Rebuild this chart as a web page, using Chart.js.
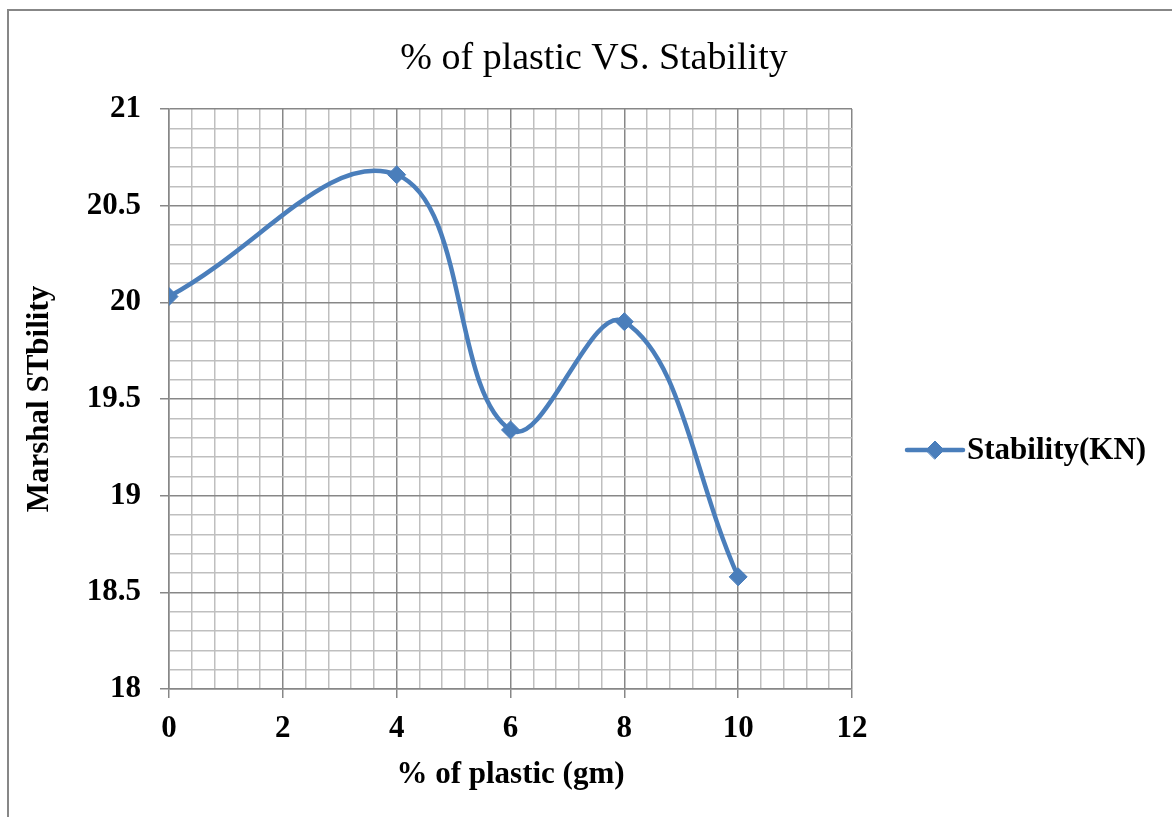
<!DOCTYPE html>
<html>
<head>
<meta charset="utf-8">
<script src="https://cdn.jsdelivr.net/npm/chart.js@4/dist/chart.umd.min.js"></script>
<style>
  html, body { margin: 0; padding: 0; background: #ffffff; }
  #wrap { position: relative; width: 1172px; height: 817px; overflow: hidden; }
  #frame { position: absolute; left: 7px; top: 9px; width: 1300px; height: 1000px;
           border-top: 2px solid #878787; border-left: 2px solid #878787; }
  #c { position: absolute; left: 0; top: 0; }
</style>
</head>
<body>
<div id="wrap">
  <div id="frame"></div>
  <canvas id="c" width="1172" height="817"></canvas>
</div>
<script>
// ---- data ----
const plasticPercent = [0, 4, 6, 8, 10];
const stabilityKN = [20.03, 20.66, 19.34, 19.90, 18.58];
const seriesName = 'Stability(KN)';
const chartTitle = '% of plastic VS. Stability';
const xAxisTitle = '% of plastic (gm)';
const yAxisTitle = 'Marshal STbility';
const xMajorTicks = [0, 2, 4, 6, 8, 10, 12];
const yMajorTicks = [18, 18.5, 19, 19.5, 20, 20.5, 21];

const FONT = "'Liberation Serif', 'Times New Roman', serif";
const LINE_COLOR = '#4a7ebb';
const MAJOR = '#878787';
const MINOR = '#bfbfbf';

const isMajor = (list, v) => list.some(m => Math.abs(m - v) < 1e-6);

const legendPlugin = {
  id: 'sideLegend',
  afterDraw(chart) {
    const ctx = chart.ctx;
    const ds = chart.data.datasets[0];
    const area = chart.chartArea;
    const x0 = area.right + 55;
    const y = 450;
    ctx.save();
    ctx.strokeStyle = ds.borderColor;
    ctx.lineWidth = ds.borderWidth;
    ctx.lineCap = 'round';
    ctx.beginPath();
    ctx.moveTo(x0, y);
    ctx.lineTo(x0 + 56, y);
    ctx.stroke();
    ctx.fillStyle = ds.pointBackgroundColor;
    ctx.strokeStyle = ds.pointBorderColor;
    ctx.lineWidth = 1;
    Chart.helpers.drawPoint(ctx, { pointStyle: 'rectRot', radius: ds.pointRadius, rotation: 0, borderWidth: 1 }, x0 + 28, y);
    ctx.fillStyle = '#000';
    ctx.font = 'bold 31px ' + FONT;
    ctx.textBaseline = 'middle';
    ctx.textAlign = 'left';
    ctx.fillText(ds.label, x0 + 60, y + 1);
    ctx.restore();
  }
};

new Chart(document.getElementById('c'), {
  type: 'scatter',
  data: {
    datasets: [{
      label: seriesName,
      data: plasticPercent.map((x, i) => ({ x: x, y: stabilityKN[i] })),
      showLine: true,
      tension: 0.4,
      borderColor: LINE_COLOR,
      borderWidth: 4.5,
      pointStyle: 'rectRot',
      pointRadius: 9,
      pointHoverRadius: 9,
      pointBackgroundColor: LINE_COLOR,
      pointBorderColor: LINE_COLOR,
      pointBorderWidth: 1
    }]
  },
  options: {
    responsive: false,
    animation: false,
    devicePixelRatio: 1,
    layout: { padding: { left: 16, right: 0, top: 0, bottom: 0 } },
    plugins: {
      legend: { display: false },
      tooltip: { enabled: false },
      title: {
        display: true,
        text: chartTitle,
        color: '#000',
        font: { family: FONT, size: 38, weight: 'normal' },
        padding: { top: 36, bottom: 27.4 }
      }
    },
    scales: {
      x: {
        type: 'linear',
        min: 0, max: 12,
        afterFit(s) { s.height = 128; },
        ticks: {
          stepSize: 0.4,
          autoSkip: false,
          maxRotation: 0,
          maxTicksLimit: 100,
          padding: 12,
          color: '#000',
          font: { family: FONT, size: 31, weight: 'bold' },
          callback: (v) => isMajor(xMajorTicks, v) ? String(Math.round(v)) : ''
        },
        grid: {
          color: (c) => isMajor(xMajorTicks, c.tick.value) ? MAJOR : MINOR,
          lineWidth: 1.5,
          tickLength: 9,
          tickColor: (c) => isMajor(xMajorTicks, c.tick.value) ? MAJOR : 'rgba(0,0,0,0)',
          tickWidth: 1.5
        },
        border: { color: MAJOR, width: 1.5 },
        title: {
          display: true,
          text: xAxisTitle,
          color: '#000',
          font: { family: FONT, size: 31, weight: 'bold' },
          padding: { top: 0, bottom: 23 }
        }
      },
      y: {
        type: 'linear',
        min: 18, max: 21,
        afterFit(s) { s.width = 153; },
        ticks: {
          stepSize: 0.1,
          autoSkip: false,
          maxTicksLimit: 100,
          padding: 19,
          color: '#000',
          font: { family: FONT, size: 31, weight: 'bold' },
          callback: (v) => isMajor(yMajorTicks, v) ? String(Math.round(v * 10) / 10) : ''
        },
        grid: {
          color: (c) => isMajor(yMajorTicks, c.tick.value) ? MAJOR : MINOR,
          lineWidth: 1.5,
          tickLength: 9,
          tickColor: (c) => isMajor(yMajorTicks, c.tick.value) ? MAJOR : 'rgba(0,0,0,0)',
          tickWidth: 1.5
        },
        border: { color: MAJOR, width: 1.5 },
        title: {
          display: true,
          text: yAxisTitle,
          color: '#000',
          font: { family: FONT, size: 31, weight: 'bold' },
          padding: { top: 5, bottom: 0 }
        }
      },
      spacer: {
        type: 'linear',
        position: 'right',
        display: true,
        afterFit(s) { s.width = 320; },
        ticks: { display: false },
        grid: { display: false, drawTicks: false },
        border: { display: false }
      }
    }
  },
  plugins: [legendPlugin]
});
</script>
</body>
</html>
